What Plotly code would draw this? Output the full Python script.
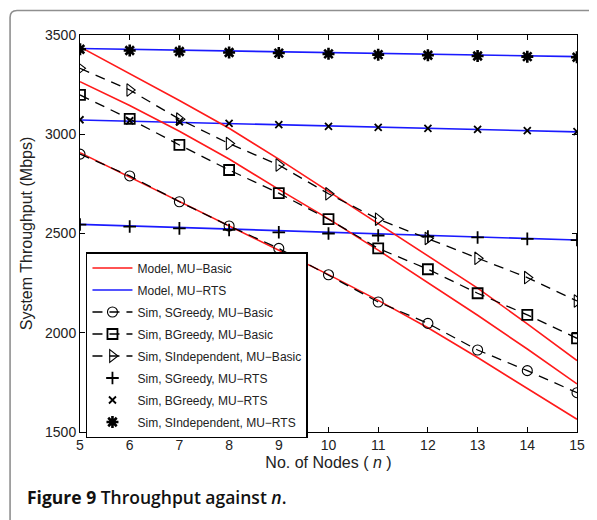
import plotly.graph_objects as go

n_nodes = [5, 6, 7, 8, 9, 10, 11, 12, 13, 14, 15]

# Model, MU-Basic (three red curves)
model_basic_sind = [3440, 3305, 3170, 3030, 2875, 2712, 2550, 2390, 2225, 2045, 1860]
model_basic_bgreedy = [3265, 3145, 3015, 2875, 2722, 2574, 2416, 2254, 2088, 1918, 1742]
model_basic_sgreedy = [2907, 2785, 2663, 2541, 2418, 2293, 2163, 2025, 1875, 1720, 1564]

# Model, MU-RTS (three blue curves)
model_rts_sind = [3432, 3428, 3424, 3420, 3416, 3412, 3407, 3403, 3399, 3395, 3391]
model_rts_bgreedy = [3072, 3066, 3060, 3054, 3048, 3042, 3036, 3030, 3024, 3018, 3012]
model_rts_sgreedy = [2546, 2538, 2530, 2522, 2514, 2506, 2498, 2490, 2482, 2474, 2467]

# Simulation results
sim_sgreedy_basic = [2900, 2790, 2660, 2538, 2425, 2292, 2155, 2047, 1913, 1809, 1698]
sim_bgreedy_basic = [3198, 3077, 2946, 2820, 2703, 2572, 2425, 2320, 2199, 2090, 1972]
sim_sind_basic = [3332, 3223, 3076, 2953, 2845, 2700, 2572, 2475, 2375, 2278, 2160]
sim_sgreedy_rts = [2545, 2535, 2526, 2518, 2506, 2500, 2490, 2485, 2480, 2473, 2467]
sim_bgreedy_rts = [3073, 3068, 3063, 3055, 3048, 3040, 3035, 3030, 3025, 3018, 3013]
sim_sind_rts = [3428, 3422, 3417, 3412, 3409, 3405, 3401, 3398, 3394, 3391, 3388]

y_ticks = [1500, 2000, 2500, 3000, 3500]

RED = "#ff1a1a"
BLUE = "#1a1aff"

fig = go.Figure()

def line(y, color, name, group):
    fig.add_trace(go.Scatter(
        x=n_nodes, y=y, mode="lines", name=name, showlegend=False,
        legendgroup=group, line=dict(color=color, width=1.6)))

line(model_rts_sind, BLUE, "Model, MU−RTS", "g2")
line(model_rts_bgreedy, BLUE, "Model, MU−RTS", "g2")
line(model_rts_sgreedy, BLUE, "Model, MU−RTS", "g2")
line(model_basic_sind, RED, "Model, MU−Basic", "g1")
line(model_basic_bgreedy, RED, "Model, MU−Basic", "g1")
line(model_basic_sgreedy, RED, "Model, MU−Basic", "g1")

def sim(y, symbol, name, group, dashed, rank, size=10, lw=1.2):
    fig.add_trace(go.Scatter(
        x=n_nodes, y=y, mode="lines+markers" if dashed else "markers",
        name=name, legendgroup=group, legendrank=rank,
        line=dict(color="black", width=1.3, dash="10px,7px"),
        marker=dict(symbol=symbol, size=size, color="black",
                    line=dict(color="black", width=lw))))

sim(sim_sgreedy_basic, "circle-open", "Sim, SGreedy, MU−Basic", "g3", True, 3, 10, 1.1)
sim(sim_bgreedy_basic, "square-open", "Sim, BGreedy, MU−Basic", "g4", True, 4, 10, 1.8)
sim(sim_sind_basic, "triangle-right-open", "Sim, SIndependent, MU−Basic", "g5", True, 5, 11, 1.1)
sim(sim_sgreedy_rts, "cross-thin-open", "Sim, SGreedy, MU−RTS", "g6", False, 6, 9, 1.8)
sim(sim_bgreedy_rts, "x-thin-open", "Sim, BGreedy, MU−RTS", "g7", False, 7, 7, 1.8)
sim(sim_sind_rts, "asterisk-open", "Sim, SIndependent, MU−RTS", "g8", False, 8, 10, 2.6)

# legend-only entries for model lines
fig.add_trace(go.Scatter(x=[None], y=[None], mode="lines", name="Model, MU−Basic",
                         legendgroup="g1", legendrank=1, line=dict(color=RED, width=1.6)))
fig.add_trace(go.Scatter(x=[None], y=[None], mode="lines", name="Model, MU−RTS",
                         legendgroup="g2", legendrank=2, line=dict(color=BLUE, width=1.6)))

axis_common = dict(
    showline=True, linecolor="black", linewidth=1, mirror="ticks",
    ticks="inside", ticklen=5, tickcolor="black", showgrid=False, zeroline=False,
    tickfont=dict(family="Liberation Sans, Arial", size=14, color="#222"),
)

# page body has an 8px margin; figure sized/positioned to compensate
fig.update_layout(
    width=589, height=512,
    margin=dict(l=72, r=16, t=27, b=88),
    paper_bgcolor="white", plot_bgcolor="white",
    xaxis=dict(range=[5, 15], tickvals=n_nodes, ticktext=[str(v) for v in n_nodes],
               title=dict(text="No. of Nodes ( <i>n</i> )", standoff=5,
                          font=dict(family="Liberation Sans, Arial", size=16, color="#222")),
               **axis_common),
    yaxis=dict(range=[1500, 3500], tickvals=y_ticks, ticktext=[str(v) for v in y_ticks],
               title=dict(text="System Throughput (Mbps)", standoff=8,
                          font=dict(family="Liberation Sans, Arial", size=16, color="#222")),
               **axis_common),
    legend=dict(x=0.012, y=0.4534, xanchor="left", yanchor="top",
                bgcolor="white", bordercolor="black", borderwidth=1.5,
                font=dict(family="Liberation Sans, Arial", size=12, color="#222"),
                tracegroupgap=3, itemwidth=40),
    showlegend=True,
)

# outer rounded frame (coordinates relative to plot area)
x0 = (9.5 - 80) / 501
x1 = (600 - 80) / 501
yt = 1 + (35 - 10.5) / 397
yb = 1 - (530 - 35) / 397
rx = 7 / 501
ry = 7 / 397
fig.add_shape(type="path", xref="paper", yref="paper",
              path=f"M {x1},{yt} L {x0 + rx},{yt} Q {x0},{yt} {x0},{yt - ry} L {x0},{yb}",
              line=dict(color="#8f8f8f", width=1.6), layer="above")

# caption
fig.add_annotation(xref="paper", yref="paper", x=(25 - 80) / 501, y=1 - (497 - 35) / 397,
                   xanchor="left", yanchor="middle", showarrow=False,
                   text="<b>Figure 9</b> Throughput against <i>n</i>.",
                   font=dict(family="Open Sans", size=17.5, color="#111", weight=600))

fig.write_html("out.html")
